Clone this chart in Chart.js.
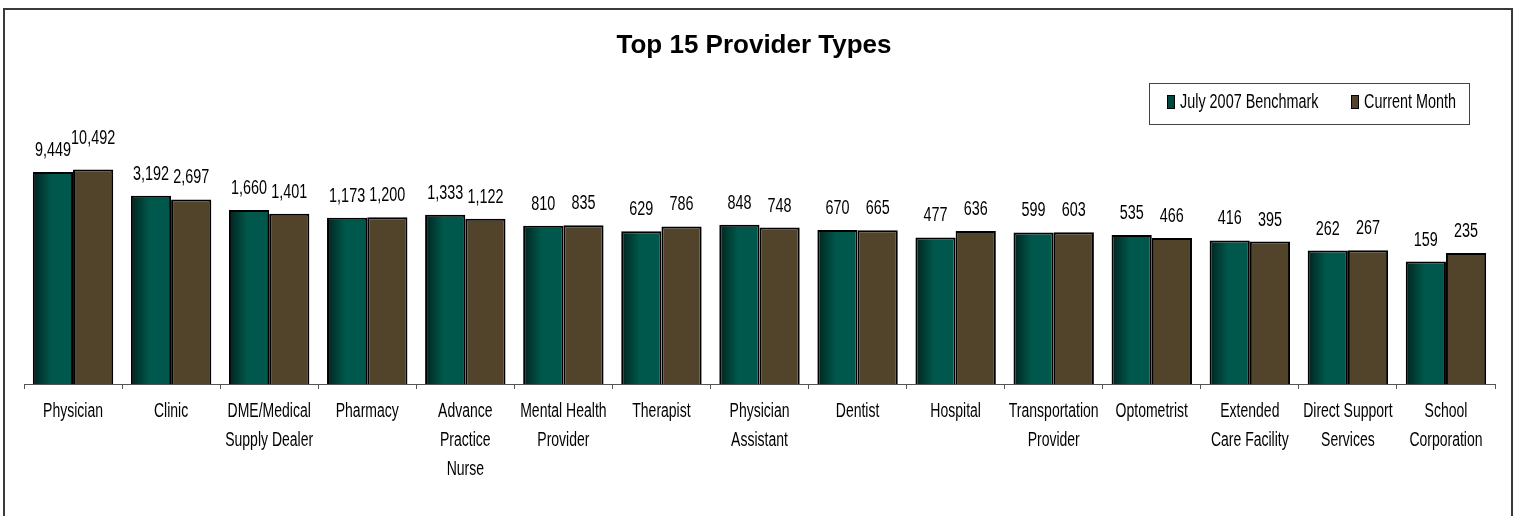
<!DOCTYPE html>
<html lang="en">
<head>
  <meta charset="UTF-8">
  <title>Top 15 Provider Types</title>
  <script src="https://cdn.jsdelivr.net/npm/chart.js"></script>
  <style>
    body { margin: 0; background: #FFFFFF; }
    canvas { display: block; }
  </style>
</head>
<body>
  <canvas id="providerChart" width="1515" height="516"></canvas>

  <script>
    // Data
    const categories = [
      "Physician", "Clinic", ["DME/Medical", "Supply Dealer"], "Pharmacy",
      ["Advance", "Practice", "Nurse"], ["Mental Health", "Provider"], "Therapist",
      ["Physician", "Assistant"], "Dentist", "Hospital", ["Transportation", "Provider"],
      "Optometrist", ["Extended", "Care Facility"], ["Direct Support", "Services"],
      ["School", "Corporation"]
    ];
    const benchmark = [9449, 3192, 1660, 1173, 1333, 810, 629, 848, 670, 477, 599, 535, 416, 262, 159];
    const currentMonth = [10492, 2697, 1401, 1200, 1122, 835, 786, 748, 665, 636, 603, 466, 395, 267, 235];
    const seriesNames = ["July 2007 Benchmark", "Current Month"];

    const teal = "#00554A";
    const brown = "#52442A";
    const labelFont = "20px 'Liberation Sans', Arial, sans-serif";

    // the original uses a tall condensed face (Arial Narrow); no narrow font here,
    // so squeeze Liberation Sans horizontally
    function narrowText(c, text, x, y, size, align, squeeze) {
      c.save();
      c.translate(x, y);
      c.scale(squeeze || 0.71, 1);
      c.font = size + "px 'Liberation Sans', Arial, sans-serif";
      c.textAlign = align;
      c.textBaseline = "alphabetic";
      c.fillText(text, 0, 0);
      c.restore();
    }

    // teal bars get a dark-to-light gradient from left edge
    function tealFill(ctx) {
      const chart = ctx.chart;
      const x = chart.scales.x;
      if (!chart.chartArea || !x || ctx.dataIndex === undefined) return teal;
      const centre = x.getPixelForValue(ctx.dataIndex);
      const half = x.width / categories.length * 0.82 / 2;
      const g = chart.ctx.createLinearGradient(centre - half, 0, centre, 0);
      g.addColorStop(0, "#00241F");
      g.addColorStop(0.45, "#00574B");
      g.addColorStop(1, "#00574B");
      return g;
    }

    const framePlugin = {
      id: "frame",
      beforeDraw(chart) {
        const c = chart.ctx;
        c.save();
        c.fillStyle = "#FFFFFF";
        c.fillRect(0, 0, chart.width, chart.height);
        c.strokeStyle = "#3A3A3A";
        c.lineWidth = 2;
        c.strokeRect(4, 9, 1508, 520);
        // title
        c.fillStyle = "#000000";
        c.font = "bold 26px 'Liberation Sans', Arial, sans-serif";
        c.textAlign = "center";
        c.textBaseline = "alphabetic";
        c.fillText("Top 15 Provider Types", 754, 53);
        // legend
        c.lineWidth = 1;
        c.strokeStyle = "#444444";
        c.strokeRect(1149.5, 83.5, 320, 41);
        const legendX = [1167, 1351];
        const legendFill = ["#00473D", brown];
        seriesNames.forEach((name, i) => {
          c.fillStyle = legendFill[i];
          c.fillRect(legendX[i], 95, 7, 13);
          c.strokeStyle = "#000000";
          c.strokeRect(legendX[i] + 0.5, 95.5, 7, 13);
          c.fillStyle = "#000000";
          narrowText(c, name, legendX[i] + 13, 108, 20, "left", 0.72);
        });
        c.restore();
      },
      afterDraw(chart) {
        const c = chart.ctx;
        const x = chart.scales.x;
        c.save();
        c.fillStyle = "#000000";
        // category labels under the axis
        categories.forEach((cat, i) => {
          const lines = Array.isArray(cat) ? cat : [cat];
          lines.forEach((line, k) => {
            narrowText(c, line, x.getPixelForValue(i), 417 + k * 29, 20, "center", 0.70);
          });
        });
        // value labels above bars; lift one of a pair if the two would touch
        const a = chart.getDatasetMeta(0).data;
        const b = chart.getDatasetMeta(1).data;
        c.font = labelFont;
        categories.forEach((cat, i) => {
          const t1 = benchmark[i].toLocaleString("en-US");
          const t2 = currentMonth[i].toLocaleString("en-US");
          let y1 = a[i].y - 16, y2 = b[i].y - 16;
          const w1 = c.measureText(t1).width * 0.72;
          const w2 = c.measureText(t2).width * 0.72;
          if (b[i].x - a[i].x < (w1 + w2) / 2 + 2 && Math.abs(y1 - y2) < 12) {
            if (y2 <= y1) y2 = y1 - 12; else y1 = y2 - 12;
          }
          narrowText(c, t1, a[i].x, y1, 20, "center", 0.72);
          narrowText(c, t2, b[i].x, y2, 20, "center", 0.72);
        });
        c.restore();
      }
    };

    new Chart(document.getElementById("providerChart"), {
      type: "bar",
      data: {
        labels: categories,
        datasets: [{
          label: seriesNames[0],
          data: benchmark,
          backgroundColor: tealFill,
          borderColor: "#000000",
          borderWidth: 2,
          borderSkipped: "bottom"
        }, {
          label: seriesNames[1],
          data: currentMonth,
          backgroundColor: brown,
          borderColor: "#000000",
          borderWidth: 2,
          borderSkipped: "bottom"
        }]
      },
      options: {
        responsive: false,
        animation: false,
        devicePixelRatio: 1,
        layout: { padding: { left: 24, right: 20, top: 125, bottom: 0 } },
        datasets: { bar: { categoryPercentage: 0.82, barPercentage: 1 } },
        scales: {
          x: {
            afterFit(scale) { scale.height = 132; },
            grid: {
              offset: true,
              drawOnChartArea: false,
              tickLength: 5,
              color: "#555555"
            },
            border: { color: "#555555", width: 1 },
            ticks: { display: false, autoSkip: false }
          },
          y: {
            type: "logarithmic",
            display: false,
            min: 0.62,
            max: 80000
          }
        },
        plugins: {
          legend: { display: false },
          title: { display: false },
          tooltip: { enabled: false }
        }
      },
      plugins: [framePlugin]
    });
  </script>
</body>
</html>
